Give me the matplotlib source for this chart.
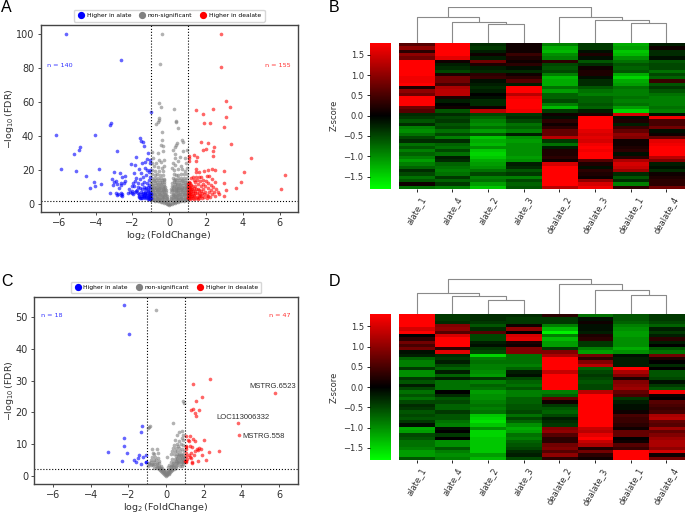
import matplotlib
matplotlib.use("Agg")
import matplotlib.pyplot as plt
from matplotlib.colors import LinearSegmentedColormap
from matplotlib.lines import Line2D

W = 685
H = 513

# panel A volcano points, (log2 fold change, -log10 FDR)
a_blue = [(-5.63,100),(-2.63,84.3),(-6.14,40.7),(-4.06,40.5),(-3.18,47.7),(-3.2,46.2),(-4.86,33.3),(-4.93,31.9),
    (-5.16,29.5),(-2.82,31.1),(-5.87,20.7),(-5.05,19.6),(-3.83,20.7),(-4.51,16.2),(-4.08,12.9),(-4.03,10.4),
    (-4.3,9.4),(-3.7,11.9),(-3.2,6.6),(-1.01,54),(-1.59,39),(-1.53,37),(-1.43,36.4),(-1.39,34),(-1.15,30.1),
    (-1.8,27.6),(-1.2,26.4),(-1.3,24.5),(-1.48,24),(-2.1,23.5),(-1.86,23),(-1.03,25.8),(-1.03,23.9),(-1.3,21),
    (-1.64,20.7),(-1.9,18.4),(-3.0,18.6),(-2.67,18.4),(-2.4,16.6),(-2.56,16),(-3.09,14.5),(-3.0,12.9),(-2.9,13.2),
    (-2.6,12.6),(-2.45,12.2),(-2.82,11.7),(-3.05,11.2),(-2.62,11.4),(-2.38,13.5),(-2.75,9.1),(-2.9,6.3),(-2.8,5.9),
    (-2.63,6.6),(-2.55,6.1),(-2.6,5.2),(-2.55,4.4),(-2.85,5.5),(-2.12,7.1),(-2.05,6.3),(-2.2,8.7),(-2.02,7.7),
    (-1.95,5.9),(-1.88,7.2),(-1.8,7.5),(-1.75,8.2),(-1.72,6.2),(-1.65,5.6),(-1.62,4.6),(-1.58,3.6),(-1.55,7),
    (-1.5,4.8),(-1.47,8.7),(-1.43,6.3),(-1.4,3.9),(-1.36,5.1),(-1.32,7.2),(-1.3,3.4),(-1.26,9.5),(-1.24,4.6),
    (-1.2,6.2),(-1.18,3.2),(-1.15,8.1),(-1.12,4.2),(-1.1,5.6),(-1.07,3.5),(-1.05,7),(-1.03,4.6),(-1.02,3),
    (-1.02,9.5),(-1.08,11),(-1.2,12.5),(-1.35,13),(-1.5,11.6),(-1.72,12.6),(-1.85,13.5),(-1.95,12.3),(-1.6,14.6),
    (-1.45,15.8),(-1.25,17),(-1.12,18.5),(-1.55,17.9),(-1.8,15.5),(-1.9,10.5),(-1.68,10),(-1.4,10.2),(-1.1,13.8),
    (-1.05,15.6),(-1.05,20.2),(-1.2,19.7),(-2.0,10.6),(-2.22,6.7),(-1.58,9.2),(-1.3,8.9),(-1.15,10),(-1.0,6),(-1.0,3.8),
    (-1.14,3.4),(-1.28,4.1),(-1.42,4.5),(-1.54,3.3),(-1.08,4.9),(-1.22,5.4),(-1.34,6.4),(-1.48,5.9),(-1.04,6.4),(-1.18,7.4),
    (-1.46,3.4),(-1.1,3.1),(-1.66,3.9),(-1.3,5.7),(-1.02,5.2)]
a_red = [(2.8,100),(2.8,80.4),(3.06,60.6),(3.33,57),(2.36,55.7),(1.47,55.3),(1.85,52.8),(3.1,51.1),(1.9,47.3),
    (2.23,47.4),(2.97,44.9),(3.37,35.2),(1.75,36.6),(2.1,35.7),(2.43,33.6),(1.85,31.6),(2.0,32),(2.38,31),
    (2.37,28.3),(1.35,29),(1.05,28.3),(1.1,26.8),(1.5,27.3),(1.46,25.2),(1.08,25),(4.45,27.1),(4.08,18.9),
    (6.28,17.2),(6.1,9),(3.9,12.9),(3.64,9.5),(3.1,8.1),(3.0,12.6),(3.0,19.2),(2.5,20),(2.3,20.7),(2.1,20.2),
    (1.9,19.4),(1.45,20.5),(1.45,19),(1.6,18.6),(2.05,16.3),(2.15,16.5),(3.0,4.5),(2.65,6.9),(2.68,5.8),
    (1.05,13),(1.03,11.9),(1.07,10.8),(1.02,9.8),(1.06,8.9),(1.03,7.8),(1.08,6.7),(1.02,5.6),(1.05,4.6),(1.03,3.3),
    (1.12,12.3),(1.15,9.6),(1.18,7.5),(1.14,5.6),(1.2,3.6),(1.25,4.7),(1.3,6.5),(1.24,8.5),(1.34,3.2),(1.36,5.4),
    (1.4,7.8),(1.42,10.3),(1.38,12.9),(1.44,15.7),(1.5,14),(1.5,4.2),(1.53,6.2),(1.55,9),(1.58,11.6),(1.6,3.4),
    (1.64,16),(1.66,13.2),(1.68,5),(1.7,7.4),(1.73,10.4),(1.75,15.7),(1.78,3.7),(1.82,14.2),(1.84,12),(1.86,8.6),
    (1.88,5.7),(1.9,4),(1.95,10.6),(1.97,7),(2.0,13.4),(2.03,3.4),(2.05,5.2),(2.1,9.4),(2.12,12.4),(2.16,6.9),
    (2.2,3.9),(2.25,11),(2.28,8.2),(2.3,14.4),(2.33,5.6),(2.4,9.9),(2.42,7),(2.47,4.4),(2.5,12.8),(2.55,8.6),
    (1.2,15.2),(1.3,16),(1.55,3.2),(1.15,3.1),(1.25,10.6),(1.32,13.8),(1.62,8),(1.8,6.4),(2.08,4.6),(1.1,6),
    (1.04,4),(1.1,3.6),(1.16,4.4),(1.06,5.2),(1.12,7),(1.2,5.6),(1.28,3.4),(1.34,4.4),(1.44,3.6),(1.08,7.9),(1.18,8.6),
    (1.3,7.6),(1.42,6.4),(1.1,10.2),(1.05,12.4),(1.2,11.4),(1.32,9.6),(1.62,4.4),(1.74,4.6),(1.46,8.6),(1.6,6.6)]
a_gray = [(-.4,100),(-.52,82),(-.56,59),(-.43,56.8),(.27,55.8),(-.58,50.7),(-.56,49.3),(-.61,48.3),(-.7,46.8),
    (.34,48.9),(.36,48),(.49,44.4),(-.4,42.5),(-.4,37.8),(-.45,34.8),(-.34,34.2),(.69,37.4),(.76,36.2),(.43,36),
    (.38,34.6),(.31,33.7),(.2,31.7),(.96,31.7),(.74,31),(-.92,30.7),(-.63,30),(-.34,31.3),(.29,29.2),(.56,27.4),
    (.83,27),(.29,26.8),(-.58,25.8),(-.47,24.5),(-.29,25.8),(-.7,23.9),(-.9,27),(-.95,24),(.22,24.2),(.3,23),
    (.45,25),(.62,22.5),(.9,24),(.98,21.2),(-.85,22),(-.6,21.6),(-.4,21),(-.3,22.5),(.15,21),(.25,20.1),(.45,20.5),
    (.7,20.4),(.85,19.6),(-.95,19.8),(-.75,19.5),(-.55,19.2),(-.35,19.3),
    # filled body, left of the V
    (-.96,17.6),(-.8,17.2),(-.64,17.4),(-.48,17),(-.34,16.8),(-.93,15.2),(-.78,15.4),(-.62,15),(-.46,15.3),(-.3,14.8),
    (-.97,13),(-.84,13.3),(-.68,13),(-.52,12.8),(-.38,13.1),(-.26,12.7),(-.92,11),(-.76,11.2),(-.6,10.9),(-.44,11),
    (-.28,10.8),(-.96,9),(-.82,9.2),(-.66,8.9),(-.5,9.1),(-.34,8.8),(-.22,9),(-.9,7),(-.74,7.2),(-.58,6.9),(-.42,7.1),
    (-.26,6.9),(-.17,7),(-.96,5),(-.8,5.2),(-.64,4.9),(-.48,5.1),(-.32,4.8),(-.18,5),(-.12,4.6),(-.9,3.2),(-.74,3.1),
    (-.58,3),(-.42,3.2),(-.26,3),(-.14,2.9),(-.8,1.9),(-.62,1.5),(-.46,1.2),(-.3,.8),(-.18,.4),(-.08,.1),(-.08,2),
    (-.96,2.8),(-.5,2.2),(-.34,1.9),(-.2,1.6),
    (-.98,2.2),(-.84,2.4),(-.68,2.2),(-.54,1.9),(-.38,1.4),(-.24,1),(-.9,4),(-.74,4.1),(-.58,4),(-.42,4),(-.26,4),(-.13,3.8),
    (-.98,6),(-.84,6.1),(-.68,6),(-.52,6),(-.36,6),(-.22,6),(-.92,8),(-.76,8.1),(-.6,8),(-.44,8),(-.28,8),(-.18,8),
    (-.98,10),(-.84,10.1),(-.68,10),(-.52,10),(-.36,10),(-.24,10),(-.92,12),(-.76,12.1),(-.6,12),(-.44,12),(-.3,11.9),
    (-.86,14.2),(-.7,14.1),(-.54,14.1),(-.38,14.2),(-.28,14),(-.86,3.6),(-.66,3.5),(-.5,3.6),(-.34,3.4),(-.2,3.4),
    (-.82,5.6),(-.56,5.6),(-.4,5.5),(-.25,5.3),(-.88,7.6),(-.68,7.6),(-.5,7.7),(-.34,7.4),(-.92,9.6),(-.72,9.6),(-.54,9.5),(-.34,9.6),
    # filled body, right of the V
    (.98,17.8),(.82,17.4),(.66,17.6),(.5,17.1),(.36,16.8),(.24,17.5),(.95,15.3),(.8,15.5),(.64,15),(.48,15.2),(.32,14.9),
    (.2,15),(.97,13.1),(.84,13),(.68,13.2),(.52,12.9),(.38,13),(.24,12.8),(.15,12.6),(.92,11),(.76,11.2),(.6,10.9),(.44,11),
    (.28,10.8),(.14,10.6),(.96,9),(.82,9.2),(.66,8.9),(.5,9.1),(.34,8.8),(.2,9),(.11,8.8),(.9,7),(.74,7.2),(.58,6.9),(.42,7.1),
    (.26,6.9),(.12,7),(.96,5),(.8,5.2),(.64,4.9),(.48,5.1),(.32,4.8),(.18,5),(.09,4.8),(.9,3.2),(.74,3.1),(.58,3),(.42,3.2),
    (.26,3),(.12,2.9),(.8,1.9),(.62,1.5),(.46,1.2),(.3,.8),(.18,.4),(.06,.1),(.06,2),(.96,2.8),(.5,2.2),(.34,1.9),(.2,1.6),
    (0,-.4),(-.05,-.1),(.05,-.2),(-.14,.2),(.13,.2),
    (.98,2.2),(.84,2.4),(.68,2.2),(.54,1.9),(.38,1.4),(.24,1),(.9,4),(.74,4.1),(.58,4),(.42,4),(.26,4),(.12,3.8),
    (.98,6),(.84,6.1),(.68,6),(.52,6),(.36,6),(.2,6),(.92,8),(.76,8.1),(.6,8),(.44,8),(.28,8),(.15,8),
    (.98,10),(.84,10.1),(.68,10),(.52,10),(.36,10),(.2,10),(.92,12),(.76,12.1),(.6,12),(.44,12),(.3,11.9),
    (.86,14.2),(.7,14.1),(.54,14.1),(.38,14.2),(.26,14),(.86,3.6),(.66,3.5),(.5,3.6),(.34,3.4),(.2,3.4),
    (.82,5.6),(.56,5.6),(.4,5.5),(.25,5.3),(.88,7.6),(.68,7.6),(.5,7.7),(.34,7.4),(.92,9.6),(.72,9.6),(.54,9.5),(.34,9.6)]

# panel C volcano points
c_blue = [(-2.22,53.9),(-1.95,44.7),(-1.26,15.7),(-1.33,13.9),(-2.25,11.8),(-2.23,9.3),(-3.1,7.6),(-2.09,7.1),
    (-1.44,6.6),(-1.05,6.4),(-1.22,6),(-1.49,5.5),(-1.7,5),(-2.32,4.7),(-1.6,4.4),(-1.31,3.8),(-1.06,4.2),(-1.05,4.4)]
c_red = [(2.32,30.4),(1.4,28.9),(5.78,26),(1.9,24.7),(1.6,23.5),(1.42,21.1),(1.31,20.7),(1.74,20.8),(1.52,19.9),
    (1.56,18.9),(3.83,16.6),(3.88,12.7),(1.05,12.6),(1.29,12.4),(1.45,11.7),(1.52,11),(2,11.2),(1.15,11.4),(1.19,10.8),
    (1.03,9.5),(1.08,9),(1.38,9),(1.77,8.7),(1.63,8.5),(1.7,8),(1.52,7.9),(2.8,7.8),(2.29,7.5),(1.06,7.3),(1.33,7.1),
    (1.19,6.5),(1.9,6.4),(1.28,5.9),(1.33,5.7),(1.03,6.3),(2.11,4.9),(1.06,4.5),(1.37,4.4),(1.7,4.5),(1.38,4),(1.03,4.4),
    (1.05,8.3),(1.1,5.4),(1.5,6.6),(1.85,8.4),(1.25,9.5),(1.0,4.7)]
c_gray = [(-.55,52.2),(.87,23.4),(.93,22.9),(.36,16.5),(-.9,15.2),(-.85,15.6),(-.98,14.9),(.66,13.8),(.85,14),(.92,12.9),
    (.6,12.7),(.82,12),(.45,11.4),(.7,11),(.92,11.2),(.55,10.1),(.78,10),(.4,9.7),(.62,9.4),(.92,9.6),(.36,8.8),(.5,8.6),
    (.7,8.7),(.85,8.3),(-.75,8.4),(-.47,8.4),(.3,7.9),(.45,7.8),(.6,7.9),(.75,7.7),(.93,7.7),(-.7,7.2),(-.45,7.2),(-.62,6.7),
    (.28,7),(.42,7),(.55,7),(.7,6.9),(.85,6.9),(.05,6),(.5,6.2),(.65,6.1),(.8,6.1),(.95,6),(-.75,6),
    (-.6,5.8),(-.45,5.6),(-.8,5),(-.66,5.1),(-.52,4.9),(-.38,4.8),(.32,5.2),(.46,5.2),(.6,5.3),(.74,5.2),(.88,5.2),
    (-.92,4.1),(-.78,4.2),(-.64,4.2),(-.5,4),(-.36,4),(.28,4.3),(.42,4.3),(.56,4.4),(.7,4.4),(.84,4.2),
    (.96,4.2),(-.96,3.2),(-.82,3.3),(-.68,3.3),(-.54,3.2),(-.4,3.2),(-.28,3.1),(.16,3.3),(.3,3.4),(.44,3.4),(.58,3.4),
    (.72,3.2),(.86,3.1),(-.62,2.5),(-.48,2.5),(-.34,2.5),(-.22,2.5),(.12,2.6),(.26,2.6),(.4,2.6),(.54,2.5),(-.34,1.8),
    (-.24,1.8),(-.14,1.7),(.1,1.8),(.2,1.8),(.32,1.8),(-.2,1.1),(-.1,1.1),(0,1.1),(.1,1.1),(.2,1.1),(-.12,.5),(-.03,.5),
    (.05,.5),(.13,.5),(-.05,.1),(.03,.1),(0,-.1),
    (.66,6.5),(.78,6.5),(.9,6.5),(.58,5.7),(.72,5.7),(.84,5.7),(.96,5.6),(.5,4.8),(.64,4.8),(.78,4.8),(.92,4.8),(.36,3.9),
    (.5,3.9),(.64,3.9),(.78,3.8),(.92,3.6),(.24,3),(.38,3),(.52,3),(.18,2.2),(.3,2.2),(.42,2.2),(.14,1.5),(.24,1.5),(.08,.8),
    (.16,.8),(.02,.7),(-.08,.8),(-.16,.8),(-.06,1.5),(-.18,1.5),(-.28,1.5),(-.26,2.2),(-.38,2.2),(-.5,2.8),(-.36,2.9),(-.64,3.7),
    (-.48,3.6),(-.76,3.8),(-.9,3.6)]

# heatmap values, rows top to bottom, columns as in sample_names
sample_names = ["alate_1", "alate_4", "alate_2", "alate_3", "dealate_2", "dealate_3", "dealate_1", "dealate_4"]
b_rows = [[.6,1.8,-.3,.1,-.9,-.4,-1.2,-.2],[1.0,1.8,-.4,.1,-1.2,-.4,-1.1,.1],[.3,1.8,-.2,.1,-1.3,-.1,-1.4,-.3],
    [1.0,1.8,.1,.4,-1.0,.2,-1.3,-.3],[.8,1.6,-.2,.2,-.9,-.1,-1.0,-.1],[1.8,.1,.8,.1,.3,-.6,-.8,-.6],
    [1.8,-.2,.2,.3,-.5,-.3,-.6,-.5],[1.8,-.3,-.2,-.1,-.6,.1,-.7,-.5],[1.8,-.5,-.3,-.3,-.5,.2,-.6,-.8],
    [1.8,.2,.3,.1,-.9,.2,-1.2,-.5],[1.7,.8,.4,.3,-1.3,-.1,-1.5,-.7],[1.7,.8,-.1,.6,-1.2,-.3,-1.2,.4],
    [1.8,.5,-.2,-.2,-1.2,-.3,-1.1,-.6],[.2,1.2,-.3,1.8,-.8,-.6,-.8,-.4],[1.0,1.3,-.2,1.8,-1.1,-.8,-.9,-.6],
    [.8,1.3,0,1.3,-.7,-.9,-.9,-.8],[1.8,.2,-.1,1.7,-.7,-.7,-.8,-.9],[1.8,-.2,-.3,1.8,-.5,-.7,-.9,-.9],
    [1.8,.0,-.3,1.8,-.9,-.6,-.8,-.9],[.8,.1,.1,1.8,-1.3,-.7,-1.1,-.8],[.6,-.6,1.3,1.7,-.4,-.2,-1.5,-.9],
    [-.3,-.3,-.5,-.4,.1,.2,1.5,-.1],[-.4,-.5,-.7,-.3,-.1,1.8,-.1,1.7],[-.6,-.4,-.9,-.5,.3,1.8,.2,.5],
    [-.3,-.6,-1,-.8,.1,1.8,-.2,.5],[-.9,-.5,-.8,-.7,.3,1.8,.4,.8],[-1,-.8,-1.1,-.9,.7,1.6,.7,-.1],
    [-.8,-.5,-.6,-.2,.7,1.5,1.0,.1],[-.5,-.9,-1.4,-1.0,1.3,1.6,.9,.7],[-.3,-.3,-1.2,-1.1,-.4,1.5,.1,1.6],
    [-.8,-.7,-1.3,-1,-.8,1.7,.1,1.7],[-.6,-.8,-1.0,-1.0,-.2,1.8,.2,1.8],[-.9,-.5,-1.4,-1,.2,1.7,.3,1.8],
    [-.7,-.8,-1.5,-1.0,.2,1.8,-.1,1.8],[-.9,-.2,-1.4,-1.1,.3,1.8,.3,1.3],[-1.1,-.3,-1.2,-1,.1,.6,1.2,.9],
    [-.9,-.7,-1.1,-.2,1.5,.2,1.5,-.2],[-.7,-.8,-1,-.3,1.8,-.1,1.4,-.1],[-.3,-.9,-.8,-.6,1.8,.3,1.1,-.3],
    [-.5,-.8,-.5,-.4,1.8,.2,-.3,.1],[-.8,-.4,-.9,-.9,1.8,.1,-.6,.2],[-.6,-.7,-.8,-.5,1.8,1.0,-.3,.3],
    [.1,-.4,-1.1,-.7,1.8,1.5,-.9,.3],[-.8,-.9,-1.4,-.6,1.3,1.7,.3,.8]]
d_rows = [[1.8,-.4,-.3,-.3,.3,-.8,-.6,-.4],[1.8,-.4,-.3,-.4,-.4,-.1,-.6,-.4],[1.8,-.3,-.4,-.4,-.4,.1,-.7,-.5],
    [1.8,.9,-.6,.1,-.9,-.1,-.9,-.7],[1.5,1.0,-.3,1.0,-1.3,-.1,-1,-.2],[1.8,.6,.6,.0,-1.7,-.2,-1.1,-.4],
    [.0,1.5,-.5,1.5,-.9,.2,-1.1,-.2],[.3,1.8,-.5,1.6,-1.3,.3,-1.0,.3],[.8,1.8,-.2,.2,-1.1,-.4,-1,-.2],
    [.5,1.8,-.1,.1,-1.1,-.4,-1.0,.0],[.8,.3,-.4,.9,-.4,-.9,-1.2,-.6],[-.1,1.6,-.5,.9,.9,-1.1,-1.0,-.8],
    [-.2,-.3,-1.5,-.8,1.2,.8,-.1,.8],[-.7,-.4,-.9,-.8,1.8,.3,-.2,.2],[-.9,-.2,-.8,-.8,1.8,.9,-.2,.0],
    [-.9,-.5,-.9,-.9,1.8,1.3,-.2,-.3],[-.4,-.7,-.9,-.7,1.8,-.7,1.8,.0],[-1.0,-.2,-1.0,-.2,1.4,-.5,1.2,-.6],
    [-1,-.7,-1.1,-.1,1.8,-.4,.9,-.6],[-.4,-.2,-.4,-.5,1.8,-.5,.2,-.5],[-.6,-.8,-.9,-.7,1.8,-.6,.9,-.1],
    [-.2,-.8,-.7,-.8,1.8,-.5,1,-.4],[-.5,-.8,-.8,-.6,1.8,-.5,1.1,-.6],[-.8,.0,-1.1,-.9,-.9,1.3,.7,1.7],
    [-.6,-.3,-1.0,-.9,-.7,1.8,.5,.1],[-.8,-.6,-1,-.7,.7,1.8,-.4,.0],[-.5,-.5,-.9,-.7,.1,1.8,-.2,.6],
    [-.3,-.7,-.8,-.6,-.4,1.8,-.1,.5],[-.4,-.7,-.9,-.6,-.6,1.8,-.1,.4],[-.6,-.4,-.8,-.5,-.7,1.8,.1,.5],
    [-.5,-.6,-1.4,-.8,-.5,1.8,.5,1.2],[-.6,-.6,-1.5,-.5,-.2,1.8,.4,1.3],[-.4,-.8,-1.6,-.7,-.3,1.8,.4,.7],
    [-.1,-.9,-1.4,-1.0,-.4,1.8,.3,.6],[-1.2,-.1,-1.0,-1.2,.9,1.4,.1,1.1],[-1.1,.0,-1.5,-1.1,1,1.3,.7,.7],
    [-.5,-.4,-1.5,-.8,.6,1.6,.7,.9],[-.6,.0,-1.4,-.9,.3,1.8,.0,1.1],[-.8,-1.0,-1.4,-.7,.3,1.4,.1,1.2],
    [-.8,-1,-1.4,-.6,.8,1.2,.6,1.2],[-.9,-.6,-1.4,-.5,.9,.2,.4,1.0],[-1.1,-.9,-1.4,-.3,.6,.8,1.8,1.5],
    [-1.1,-1.0,-1.1,-.2,1,.3,1.8,.1],[-.6,-.9,-1.3,-.5,.3,.1,1.8,.8]]

# dendrogram merges as (left node, right node, height); new nodes number on from 8
b_merges = [(2,3,55),(1,8,63),(0,9,76),(6,7,59),(5,11,69),(4,12,76),(10,13,106)]
d_merges = [(2,3,42),(1,8,56),(0,9,65),(6,7,57),(5,11,74),(4,12,91),(10,13,105)]

GRAY_TXT = "#303030"
green_red = LinearSegmentedColormap.from_list("green_red", ["#00ff00", "#000000", "#ff0000"])

fig = plt.figure(figsize=(W / 100, H / 100), dpi=100)


def px_axes(left, top, right, bottom):
    return fig.add_axes([left / W, 1 - bottom / H, (right - left) / W, (bottom - top) / H])


def draw_volcano(box, ylim, blue, gray, red, n_blue, n_red, n_y):
    ax = px_axes(*box)
    for pts, col in ((gray, "#808080"), (blue, "#0000ff"), (red, "#ff0000")):
        ax.scatter([p[0] for p in pts], [p[1] for p in pts], s=7, c=col, alpha=0.6, linewidths=0)
    ax.axvline(-1, color="black", ls=":", lw=0.8)
    ax.axvline(1, color="black", ls=":", lw=0.8)
    ax.axhline(2, color="black", ls=":", lw=0.8)
    ax.set_xlim(-7, 7)
    ax.set_ylim(*ylim)
    ax.set_xticks([-6, -4, -2, 0, 2, 4, 6])
    ax.tick_params(labelsize=7, length=2.5, width=0.6, pad=2, colors=GRAY_TXT)
    ax.set_xlabel(r"$\log_2$(FoldChange)", fontsize=6.8, labelpad=0.3, color=GRAY_TXT)
    ax.set_ylabel(r"$-\log_{10}$(FDR)", fontsize=6.8, labelpad=0, color=GRAY_TXT)
    for s in ax.spines.values():
        s.set_color("#444444")
        s.set_linewidth(1.0)
    ax.text(-6.62, n_y, "n = %d" % n_blue, color="#3030ff", fontsize=4.6, va="center", ha="left")
    ax.text(6.58, n_y, "n = %d" % n_red, color="#ff3030", fontsize=4.6, va="center", ha="right")
    handles = [Line2D([], [], ls="", marker="o", ms=4.2, color=c) for c in ("#0000ff", "#808080", "#ff0000")]
    ax.legend(handles, ["Higher in alate", "non-significant", "Higher in dealate"], ncol=3, fontsize=4.3,
              loc="lower center", bbox_to_anchor=(0.5, 1.018), borderaxespad=0, handletextpad=0.35,
              columnspacing=1.25, borderpad=0.55, handlelength=1.2, framealpha=0.8, edgecolor="#cccccc")
    return ax


def draw_heatmap(top, bottom, dendro_top, rows, merges):
    cax = px_axes(370, top, 391, bottom)
    hax = px_axes(399, top, 684.3, bottom)
    im = hax.imshow(rows, aspect="auto", cmap=green_red, vmin=-1.8, vmax=1.8, interpolation="nearest")
    hax.set_xticks(range(8))
    hax.set_xticklabels(sample_names, rotation=60, ha="center", fontsize=6, color=GRAY_TXT)
    hax.set_yticks([])
    hax.tick_params(axis="x", length=2.5, width=0.6, pad=2)
    for s in hax.spines.values():
        s.set_visible(False)

    cb = fig.colorbar(im, cax=cax, ticklocation="left")
    cb.outline.set_visible(False)
    cb.set_ticks([-1.5, -1, -0.5, 0, 0.5, 1, 1.5])
    cb.ax.tick_params(labelsize=6, length=2.5, width=0.6, pad=2, labelcolor=GRAY_TXT)
    cb.set_label("Z-score", fontsize=6, labelpad=3.5, color=GRAY_TXT)

    dax = px_axes(399, dendro_top, 684.3, top)
    pos = {i: (float(i), 0) for i in range(8)}
    for k, (a, b, h) in enumerate(merges):
        xa, ya = pos[a]
        xb, yb = pos[b]
        dax.plot([xa, xa, xb, xb], [ya, h, h, yb], color="#8a8a8a", lw=0.8, solid_capstyle="butt")
        pos[8 + k] = ((xa + xb) / 2, h)
    dax.set_xlim(-0.5, 7.5)
    dax.set_ylim(0, (top - dendro_top) * 3)
    dax.axis("off")


draw_volcano((40.5, 25, 298, 212), (-4.7, 105), a_blue, a_gray, a_red, 140, 155, 81.2)
ax_c = draw_volcano((34.3, 296.7, 298, 484), (-2.6, 56.4), c_blue, c_gray, c_red, 18, 47, 50.6)
ax_c.text(4.41, 28, "MSTRG.6523", fontsize=5.5, family="Liberation Sans", color=GRAY_TXT, va="center")
ax_c.text(2.66, 18.2, "LOC113006332", fontsize=5.5, family="Liberation Sans", color=GRAY_TXT, va="center")
ax_c.text(4.06, 12.5, "MSTRG.558", fontsize=5.5, family="Liberation Sans", color=GRAY_TXT, va="center")

draw_heatmap(42.7, 188.7, 6.7, b_rows, b_merges)
draw_heatmap(314.3, 460, 278.3, d_rows, d_merges)

for letter, x, y in (("A", 1, 7.5), ("B", 329, 7.5), ("C", 1, 281.5), ("D", 329, 281.5)):
    fig.text(x / W, 1 - y / H, letter, fontsize=11.5, family="Liberation Sans", color="black", va="center")

fig.savefig("out.png", dpi=100)
